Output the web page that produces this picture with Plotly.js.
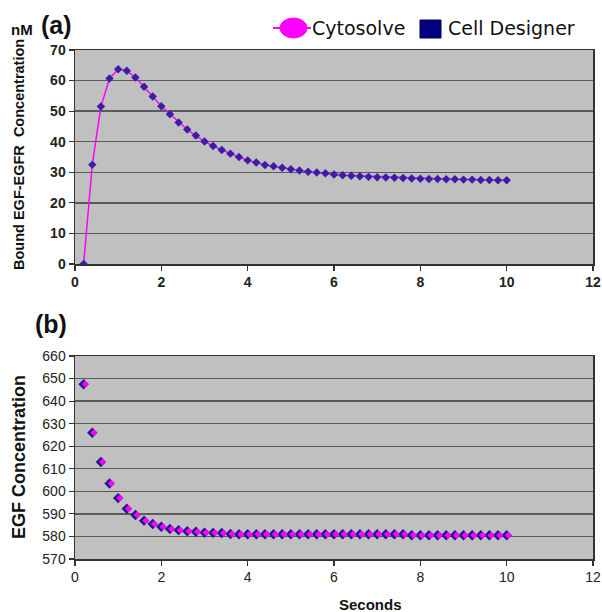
<!DOCTYPE html>
<html>
<head>
<meta charset="utf-8">
<script src="https://cdn.plot.ly/plotly-3.0.1.min.js"></script>
<style>html,body{margin:0;padding:0;background:#fff;}#chart{width:602px;height:612px;}</style>
</head>
<body>
<div id="chart"></div>
<script>
// Time points (seconds)
const seconds = [0.2,0.4,0.6,0.8,1.0,1.2,1.4,1.6,1.8,2.0,2.2,2.4,2.6,2.8,3.0,3.2,3.4,3.6,3.8,4.0,
  4.2,4.4,4.6,4.8,5.0,5.2,5.4,5.6,5.8,6.0,6.2,6.4,6.6,6.8,7.0,7.2,7.4,7.6,7.8,8.0,
  8.2,8.4,8.6,8.8,9.0,9.2,9.4,9.6,9.8,10.0];

// (a) Bound EGF-EGFR concentration (nM)
const boundCytosolve = [0,32.5,51.5,60.7,63.7,63.2,61.0,58.0,54.8,51.6,49.0,46.3,44.0,42.0,40.1,38.6,37.3,36.1,35.0,33.9,
  33.2,32.4,32.0,31.5,31.0,30.6,30.2,29.9,29.7,29.3,29.0,28.9,28.7,28.5,28.4,28.3,28.2,28.1,28.0,27.9,
  27.8,27.8,27.7,27.7,27.6,27.6,27.5,27.5,27.4,27.4];
const boundCellDesigner = [0,32.5,51.5,60.7,63.7,63.2,61.0,58.0,54.8,51.6,49.0,46.3,44.0,42.0,40.1,38.6,37.3,36.1,35.0,33.9,
  33.2,32.4,32.0,31.5,31.0,30.6,30.2,29.9,29.7,29.3,29.0,28.9,28.7,28.5,28.4,28.3,28.2,28.1,28.0,27.9,
  27.8,27.8,27.7,27.7,27.6,27.6,27.5,27.5,27.4,27.4];

// (b) EGF concentration
const egfCytosolve = [647.5,626,613,603.5,597,592.3,589.5,587,585.5,584.3,583.3,582.8,582.3,582.1,581.7,581.6,581.5,581.1,581.0,581.0,
  581.0,581.0,581.0,581.0,581.0,581.0,581.0,581.0,581.0,581.0,581.0,581.0,581.0,581.0,581.0,581.0,581.0,581.0,580.5,580.5,
  580.5,580.5,580.5,580.5,580.5,580.5,580.5,580.5,580.5,580.5];
const egfCellDesigner = [647.5,626,613,603.5,597,592.3,589.5,587,585.5,584.3,583.3,582.8,582.3,582.1,581.7,581.6,581.5,581.1,581.0,581.0,
  581.0,581.0,581.0,581.0,581.0,581.0,581.0,581.0,581.0,581.0,581.0,581.0,581.0,581.0,581.0,581.0,581.0,581.0,580.5,580.5,
  580.5,580.5,580.5,580.5,580.5,580.5,580.5,580.5,580.5,580.5];

const xTicks = [0,2,4,6,8,10,12];
const yTicksA = [0,10,20,30,40,50,60,70];
const yTicksB = [570,580,590,600,610,620,630,640,650,660];
const seriesNames = ['Cytosolve', 'Cell Designer'];

const PINK = '#ff00ff';
const NAVY = '#1c1a8e';
const PURPLE = '#3a1ea8';
const LEGEND_NAVY = '#000080';

const traces = [
  {x: seconds, y: boundCytosolve, xaxis:'x', yaxis:'y', mode:'lines', line:{color:PINK, width:1.5}, name:seriesNames[0]},
  {x: seconds, y: boundCellDesigner, xaxis:'x', yaxis:'y', mode:'markers', marker:{symbol:'diamond', size:6.5, color:PURPLE}, name:seriesNames[1]},
  {x: seconds, y: egfCellDesigner, xaxis:'x2', yaxis:'y2', mode:'markers', marker:{symbol:'diamond', size:8, color:NAVY}, name:seriesNames[1]},
  {x: seconds.map(v=>v+0.04), y: egfCytosolve, xaxis:'x2', yaxis:'y2', mode:'markers', marker:{symbol:'diamond', size:5.5, color:PINK}, name:seriesNames[0]}
];

const W = 602, H = 612;
const px = v => v / W;
const py = v => 1 - v / H;
const FONT = 'Liberation Sans, Arial, sans-serif';

const tickFontA = {family:FONT, size:14, color:'#222', weight:'bold'};
const tickFontB = {family:FONT, size:14, color:'#222'};

const axisCommon = {
  showline:true, linecolor:'#333', linewidth:1.5, mirror:true,
  ticks:'outside', ticklen:5, tickcolor:'#333', tickwidth:1.2,
  zeroline:false
};

const layout = {
  width: W, height: H,
  margin:{l:0, r:0, t:0, b:0},
  paper_bgcolor:'#ffffff',
  plot_bgcolor:'#c0c0c0',
  showlegend:false,
  xaxis: Object.assign({}, axisCommon, {domain:[px(75), px(593)], anchor:'y', range:[0,12], tickvals:xTicks, ticktext:xTicks.map(String), tickfont:tickFontA, showgrid:false}),
  yaxis: Object.assign({}, axisCommon, {domain:[py(264), py(50)], anchor:'x', range:[0,70], tickvals:yTicksA, ticktext:yTicksA.map(String), tickfont:tickFontA, showgrid:true, gridcolor:'#5a5a5a', gridwidth:1.3}),
  xaxis2: Object.assign({}, axisCommon, {domain:[px(75), px(593)], anchor:'y2', range:[0,12], tickvals:xTicks, ticktext:xTicks.map(String), tickfont:tickFontB, showgrid:false}),
  yaxis2: Object.assign({}, axisCommon, {domain:[py(559), py(356)], anchor:'x2', range:[570,660], tickvals:yTicksB, ticktext:yTicksB.map(String), tickfont:tickFontB, showgrid:true, gridcolor:'#5a5a5a', gridwidth:1.3}),
  shapes:[
    // legend: Cytosolve (line + large circle)
    {type:'line', xref:'paper', yref:'paper', x0:px(273), x1:px(311), y0:py(28), y1:py(28), line:{color:PINK, width:2}},
    {type:'circle', xref:'paper', yref:'paper', x0:px(280), x1:px(307), y0:py(38), y1:py(18), fillcolor:PINK, line:{color:PINK, width:1}},
    // legend: Cell Designer (square)
    {type:'rect', xref:'paper', yref:'paper', x0:px(420), x1:px(441), y0:py(38), y1:py(20), fillcolor:LEGEND_NAVY, line:{color:'#000040', width:1}}
  ],
  annotations:[
    {text:seriesNames[0], x:px(310), y:py(28), xref:'paper', yref:'paper', showarrow:false, xanchor:'left', yanchor:'middle', font:{family:'DejaVu Sans, sans-serif', size:19, color:'#111'}},
    {text:seriesNames[1], x:px(446), y:py(28), xref:'paper', yref:'paper', showarrow:false, xanchor:'left', yanchor:'middle', font:{family:'DejaVu Sans, sans-serif', size:19, color:'#111'}},
    {text:'nM', x:px(22), y:py(29), xref:'paper', yref:'paper', showarrow:false, xanchor:'center', yanchor:'middle', font:{family:FONT, size:15, color:'#111', weight:'bold'}},
    {text:'(a)', x:px(56), y:py(25), xref:'paper', yref:'paper', showarrow:false, xanchor:'center', yanchor:'middle', font:{family:FONT, size:25, color:'#111', weight:'bold'}},
    {text:'(b)', x:px(51), y:py(324), xref:'paper', yref:'paper', showarrow:false, xanchor:'center', yanchor:'middle', font:{family:FONT, size:25, color:'#111', weight:'bold'}},
    {text:'Bound EGF-EGFR&nbsp;&nbsp;Concentration', x:px(19), y:py(155), xref:'paper', yref:'paper', showarrow:false, textangle:-90, xanchor:'center', yanchor:'middle', font:{family:FONT, size:14.5, color:'#111', weight:'bold'}},
    {text:'EGF Concentration', x:px(19), y:py(457), xref:'paper', yref:'paper', showarrow:false, textangle:-90, xanchor:'center', yanchor:'middle', font:{family:FONT, size:18, color:'#111', weight:'bold'}},
    {text:'Seconds', x:px(370), y:py(604), xref:'paper', yref:'paper', showarrow:false, xanchor:'center', yanchor:'middle', font:{family:FONT, size:15, color:'#111', weight:'bold'}}
  ]
};

Plotly.newPlot('chart', traces, layout, {displayModeBar:false, staticPlot:true});
</script>
</body>
</html>
